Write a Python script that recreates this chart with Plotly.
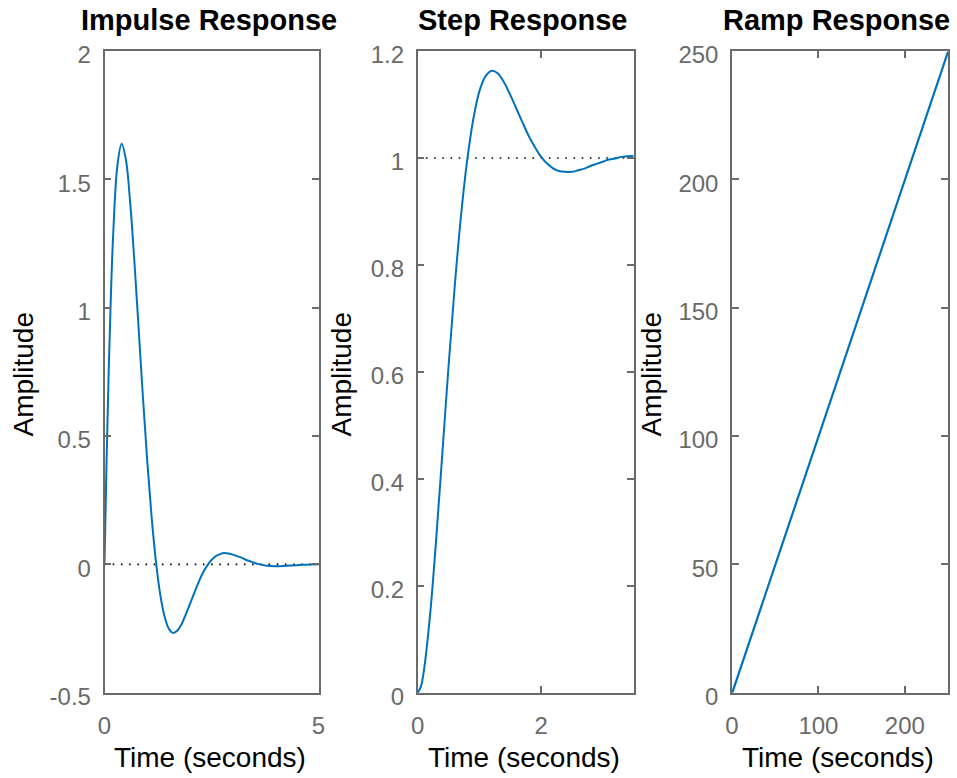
import plotly.graph_objects as go

# ---- data ----
t_imp = [0, 0.05, 0.1, 0.15, 0.2, 0.3, 0.4, 0.5, 0.6, 0.7, 0.8, 0.9, 1.0, 1.1, 1.2, 1.3, 1.4,
         1.5, 1.6, 1.7, 1.8, 1.9, 2.0, 2.1, 2.2, 2.3, 2.4, 2.5, 2.6, 2.7, 2.8, 2.9, 3.0,
         3.1, 3.2, 3.3, 3.4, 3.5, 3.6, 3.8, 4.0, 4.2, 4.4, 4.6, 4.8, 5.0]
y_imp = [0, 0.416, 0.766, 1.051, 1.274, 1.552, 1.639, 1.577, 1.409, 1.175, 0.912, 0.646, 0.399,
         0.186, 0.014, -0.115, -0.201, -0.250, -0.267, -0.259, -0.233, -0.195, -0.153, -0.110,
         -0.069, -0.033, -0.005, 0.017, 0.032, 0.040, 0.044, 0.042, 0.038, 0.032, 0.026, 0.018,
         0.012, 0.006, 0.001, -0.005, -0.007, -0.006, -0.004, -0.002, -0.0002, 0.0008]

t_step = [0, 0.05, 0.1, 0.2, 0.3, 0.4, 0.5, 0.6, 0.7, 0.8, 0.9, 1.0, 1.1, 1.2, 1.3, 1.4, 1.5,
          1.6, 1.7, 1.8, 1.9, 2.0, 2.1, 2.2, 2.3, 2.4, 2.5, 2.6, 2.7, 2.8, 2.9, 3.0, 3.1,
          3.2, 3.3, 3.4, 3.5]
y_step = [0, 0.011, 0.041, 0.145, 0.288, 0.449, 0.611, 0.760, 0.890, 0.994, 1.072, 1.125, 1.153,
          1.163, 1.158, 1.141, 1.118, 1.092, 1.066, 1.041, 1.020, 1.002, 0.989, 0.980, 0.975,
          0.974, 0.974, 0.977, 0.980, 0.985, 0.989, 0.993, 0.997, 0.999, 1.002, 1.003, 1.004]

t_ramp = [0, 1, 50, 100, 150, 200, 250]
y_ramp = [0, 0.67, 49.67, 99.67, 149.67, 199.67, 249.67]

imp_final = 0
step_final = 1

titles = ["Impulse Response", "Step Response", "Ramp Response"]
x_label = "Time (seconds)"
y_label = "Amplitude"

imp_xticks = [0, 5]
imp_yticks = [-0.5, 0, 0.5, 1, 1.5, 2]
imp_yticklabels = ["-0.5", "0", "0.5", "1", "1.5", "2"]
step_xticks = [0, 2]
step_yticks = [0, 0.2, 0.4, 0.6, 0.8, 1, 1.2]
ramp_xticks = [0, 100, 200]
ramp_yticks = [0, 50, 100, 150, 200, 250]

# ---- style ----
W, H = 957, 778
BLUE = "#0072BD"
AX = "#6a6a6a"
FONT = "Liberation Sans, Arial, sans-serif"
TICKFS = 24
LABFS = 28
TITLEFS = 29

# positions in page pixels (body margin is removed below)
boxes = [(104.5, 318.5), (417.7, 633.7), (732, 948)]
ylab_x = [23, 341, 651]
title_x = [209, 522.5, 836.5]
ytop, ybot = 51, 692.7


def px(x):
    return x / W


def py(y):
    return 1 - y / H


ydom = [py(ybot), py(ytop)]

fig = go.Figure()

DOT = dict(color="black", width=1.6, dash="1.6px,6.6px")
fig.add_trace(go.Scatter(x=[0, 5], y=[imp_final, imp_final], mode="lines", line=DOT,
                         xaxis="x", yaxis="y", hoverinfo="skip"))
fig.add_trace(go.Scatter(x=t_imp, y=y_imp, mode="lines", line=dict(color=BLUE, width=2, shape="spline"),
                         xaxis="x", yaxis="y"))
fig.add_trace(go.Scatter(x=[0, 3.5], y=[step_final, step_final], mode="lines", line=DOT,
                         xaxis="x2", yaxis="y2", hoverinfo="skip"))
fig.add_trace(go.Scatter(x=t_step, y=y_step, mode="lines", line=dict(color=BLUE, width=2, shape="spline"),
                         xaxis="x2", yaxis="y2"))
fig.add_trace(go.Scatter(x=t_ramp, y=y_ramp, mode="lines", line=dict(color=BLUE, width=2.2),
                         xaxis="x3", yaxis="y3"))

common = dict(ticks="inside", ticklen=7, tickwidth=1.5, tickcolor=AX, showline=True, linecolor=AX,
              linewidth=1.5, mirror="ticks", showgrid=False, zeroline=False, automargin=False,
              tickfont=dict(family=FONT, size=TICKFS, color=AX))


def xax(i, rng, ticks):
    l, r = boxes[i]
    return dict(domain=[px(l), px(r)], range=rng, tickvals=ticks, ticklabelstandoff=11,
                anchor="y" if i == 0 else f"y{i+1}", **common)


def yax(i, rng, ticks, labels=None):
    d = dict(domain=ydom, range=rng, tickvals=ticks, ticklabelstandoff=7, ticklabelshift=4,
             anchor="x" if i == 0 else f"x{i+1}", **common)
    if labels:
        d["ticktext"] = labels
    return d


fig.update_layout(
    width=W, height=H, margin=dict(l=0, r=0, t=0, b=0, autoexpand=False),
    paper_bgcolor="white", plot_bgcolor="white", showlegend=False,
    xaxis=xax(0, [0, 5], imp_xticks),
    yaxis=yax(0, [-0.5, 2], imp_yticks, imp_yticklabels),
    xaxis2=xax(1, [0, 3.5], step_xticks),
    yaxis2=yax(1, [0, 1.2], step_yticks),
    xaxis3=xax(2, [0, 250], ramp_xticks),
    yaxis3=yax(2, [0, 250], ramp_yticks),
)

for i, ttl in enumerate(titles):
    l, r = boxes[i]
    cx = (l + r) / 2
    fig.add_annotation(text=f"<b>{ttl}</b>", x=px(title_x[i]), y=py(19.5), xref="paper", yref="paper",
                       xanchor="center", yanchor="middle", showarrow=False,
                       font=dict(family=FONT, size=TITLEFS, color="black"))
    fig.add_annotation(text=x_label, x=px(cx - 2), y=py(757.5), xref="paper", yref="paper",
                       xanchor="center", yanchor="middle", showarrow=False,
                       font=dict(family=FONT, size=LABFS, color="black"))
    fig.add_annotation(text=y_label, x=px(ylab_x[i]), y=py(374.5), xref="paper", yref="paper",
                       xanchor="center", yanchor="middle", textangle=-90, showarrow=False,
                       font=dict(family=FONT, size=LABFS, color="black"))

fig.write_html("out.html",
               config={"displayModeBar": False},
               post_script="document.body.style.margin='0';document.body.style.overflow='hidden';")
